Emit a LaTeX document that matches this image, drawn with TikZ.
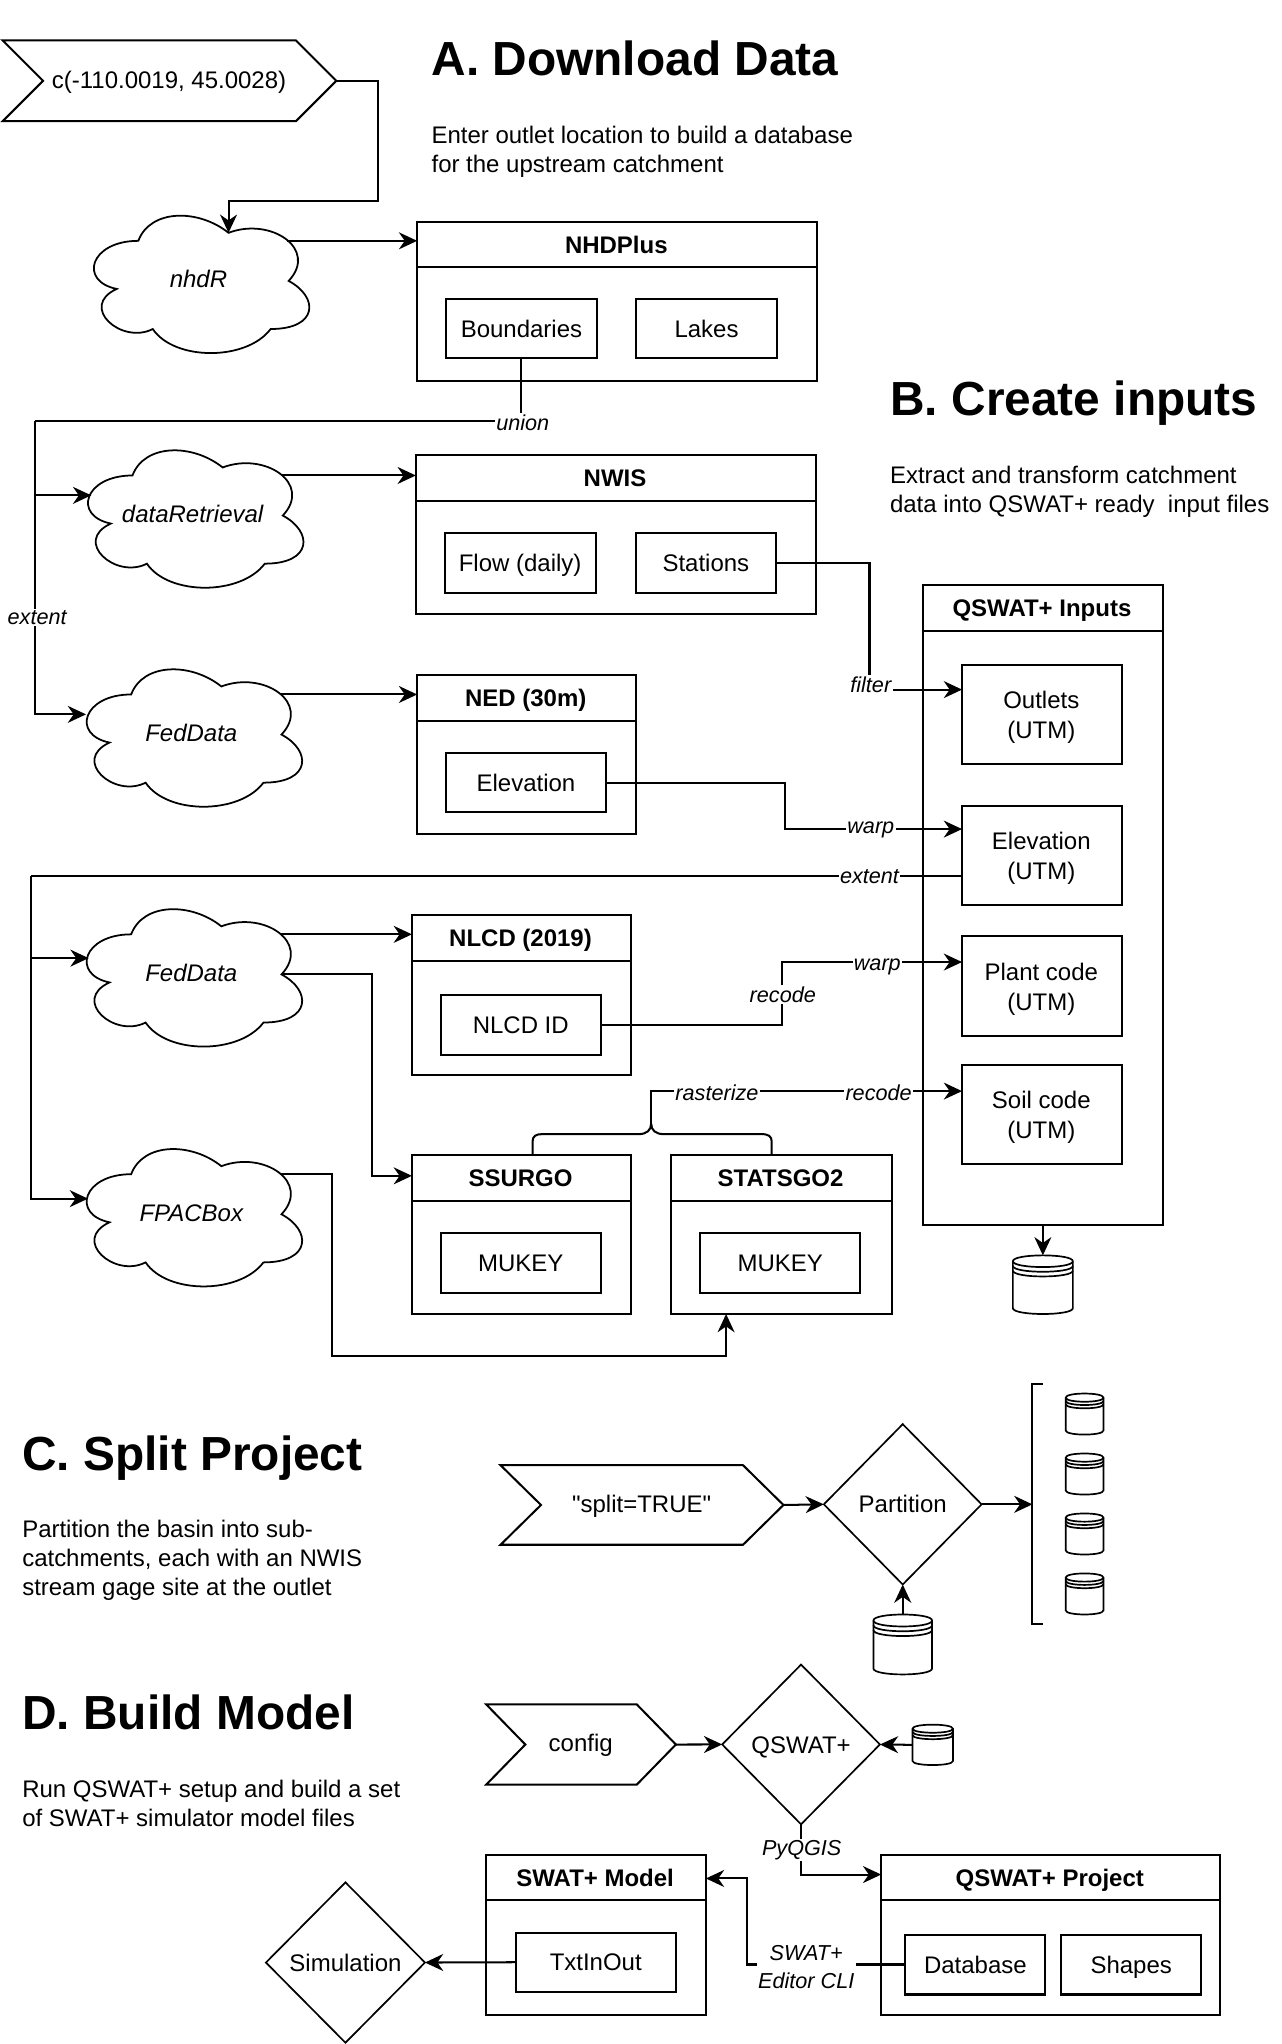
\documentclass[tikz,border=0pt]{standalone}
\usepackage{fontspec}
\setmainfont{Liberation Sans}
\newfontfamily\plainf{Liberation Sans}
\usetikzlibrary{arrows.meta,shapes.geometric}
\definecolor{ink}{RGB}{0,0,0}
\tikzset{
  every path/.style={line width=1.55pt,line join=miter},
  oneline/.style={text height=13.2pt,text depth=0pt},
  txt/.style={font=\fontsize{18.4}{23}\selectfont,align=center,inner sep=0pt,oneline},
  two/.style={font=\fontsize{18.4}{23}\selectfont,align=center,inner sep=0pt,xshift=-0.7pt},
  bxs/.style={draw=ink,fill=white,rectangle,inner sep=0pt,outer sep=0pt,font=\fontsize{18.4}{23}\selectfont,oneline},
  ttl/.style={font=\fontsize{18.4}{23}\selectfont\bfseries,inner sep=0pt,oneline,xshift=-0.7pt},
  cld/.style={font=\fontsize{18.4}{23}\selectfont\itshape,inner sep=0pt,oneline},
  arr/.style={-{Stealth[length=14pt,width=13pt,inset=4.5pt]}},
  lbl/.style={font=\fontsize{16.6}{22}\selectfont\itshape,fill=white,inner sep=1pt,align=center},
  head/.style={font=\fontsize{36.7}{40}\selectfont\bfseries,anchor=base west,inner sep=0pt},
  desc/.style={font=\fontsize{18.4}{22}\selectfont,anchor=west,align=left,inner sep=0pt},
  dia/.style={diamond,aspect=1,draw=ink,fill=white,line width=1.3pt,inner sep=0pt,outer sep=0pt,font=\fontsize{18.4}{23}\selectfont,oneline},
}
% plain box: name x1 y1 x2 y2 text
\newcommand{\bx}[6]{\node[bxs,minimum width={(#4-#2)*1pt},minimum height={(#5-#3)*1pt}] (#1) at ({(#2+#4)/2},{(#3+#5)/2}) {#6};}
% box with two lines of text: name x1 y1 x2 y2 line1 line2
\newcommand{\bxb}[7]{\node[bxs,minimum width={(#4-#2)*1pt},minimum height={(#5-#3)*1pt}] (#1) at ({(#2+#4)/2},{(#3+#5)/2}) {};
  \node[two] (#1-t) at ({(#2+#4)/2},{(#3+#5)/2+2.5}) {\strut #6\\\strut #7};}
% titled box: name x1 y1 x2 y2 yheader title
\newcommand{\tbx}[7]{\node[bxs,minimum width={(#4-#2)*1pt},minimum height={(#5-#3)*1pt}] (#1) at ({(#2+#4)/2},{(#3+#5)/2}) {};
  \draw (#2,#6) -- (#4,#6);
  \node[ttl] (#1-t) at ({(#2+#4)/2},{(#3+#6)/2}) {#7};}
% cloud: name x0 y0 text
\newcommand{\cloudn}[4]{\begin{scope}[shift={(#2,#3)},x=184.5pt,y=-123pt]
  \draw[fill=white,line width=1.35pt] (.25,.25) .. controls (.05,.25) and (0,.5) .. (.16,.55)
   .. controls (0,.66) and (.18,.9) .. (.31,.8)
   .. controls (.4,1) and (.7,1) .. (.8,.8)
   .. controls (1,.8) and (1,.6) .. (.875,.5)
   .. controls (1,.3) and (.8,.1) .. (.625,.2)
   .. controls (.5,.05) and (.3,.05) .. (.25,.25) -- cycle;
  \node[cld] (#1) at (.5,.49) {#4};
  \coordinate (#1-top) at (.625,.2);
  \coordinate (#1-ne) at (.867,.25);
  \coordinate (#1-e) at (.88,.5);
  \end{scope}}
% hexagon: name x1 y1 x2 y2 notch text
\newcommand{\hexn}[7]{\draw[fill=white] (#2,#3) -- ({#4-#6},#3) -- (#4,{(#3+#5)/2}) -- ({#4-#6},#5) -- (#2,#5) -- ({#2+#6},{(#3+#5)/2}) -- cycle;
  \coordinate (#1-e) at (#4,{(#3+#5)/2});
  \node[txt] (#1) at ({(#2+#4)/2-0.3},{(#3+#5)/2-1}) {#7};}
% datastore: name x1 y1 x2 y2
\newcommand{\store}[5]{\pgfmathsetmacro\stw{#4-#2}\pgfmathsetmacro\sth{#3-#5}%
  \begin{scope}[shift={(#2,#3)},x=\stw pt,y=\sth pt]
  \draw[fill=white,line width=1.3pt] (0,.1) -- (0,.9) .. controls (0,1.033) and (1,1.033) .. (1,.9) -- (1,.1)
     .. controls (1,-.033) and (0,-.033) .. (0,.1) -- cycle;
  \draw[line width=1.3pt] (0,.1) .. controls (0,.233) and (1,.233) .. (1,.1);
  \draw[line width=1.3pt] (0,.18) .. controls (0,.313) and (1,.313) .. (1,.18);
  \draw[line width=1.3pt] (0,.26) .. controls (0,.393) and (1,.393) .. (1,.26);
  \coordinate (#1-n) at (.5,0);
  \coordinate (#1-w) at (0,.5);
  \end{scope}}
\begin{document}
\begin{tikzpicture}[x=1pt,y=-1pt]
\fill[white] (0,0) rectangle (983.4,1568);
\path[use as bounding box] (0,0) rectangle (983.4,1568);

% headings
\node[head] (hA) at (330.3,58) {A. Download Data};
\node[desc] (dA) at (330.3,116.2) {Enter outlet location to build a database\\for the upstream catchment};
\node[head] (hB) at (682.3,319) {B. Create inputs};
\node[desc] (dB) at (682,377.5) {Extract and transform catchment\\data into QSWAT+ ready\ \ input files};
\node[head] (hC) at (16.3,1128) {C. Split Project};
\node[desc] (dC) at (16.3,1196.8) {Partition the basin into sub-\\catchments, each with an NWIS\\stream gage site at the outlet};
\node[head] (hD) at (16.3,1327) {D. Build Model};
\node[desc] (dD) at (16.3,1383.6) {Run QSWAT+ setup and build a set\\of SWAT+ simulator model files};

% input hexagon and clouds
\hexn{hexa}{2}{31}{258}{93}{31}{c(-110.0019, 45.0028)}
\cloudn{nhdr}{60}{154}{nhdR}
\cloudn{dret}{55.5}{334}{dataRetrieval}
\cloudn{fed}{54.5}{502}{FedData}
\cloudn{fedb}{54.5}{686}{FedData}
\cloudn{fpac}{54.5}{870}{FPACBox}
\coordinate (dret-w) at (70,380);
\coordinate (fed-w) at (66,548);
\coordinate (fedb-w) at (68,735);
\coordinate (fpac-w) at (67.5,919.5);

% data boxes
\tbx{nhd}{320}{170}{627}{292}{205}{NHDPlus}
\bx{bound}{342}{229}{458}{275}{Boundaries}
\bx{lakes}{488}{229}{596}{275}{Lakes}
\tbx{nwis}{319}{349}{626}{471}{384}{NWIS}
\bx{flow}{341}{409}{457}{455}{Flow (daily)}
\bx{stat}{488}{409}{595}{455}{Stations}
\tbx{ned}{320}{518}{488}{640}{553}{NED (30m)}
\bx{elev}{342}{578}{465}{623}{Elevation}
\tbx{nlcd}{316}{702}{484}{825}{737}{NLCD (2019)}
\bx{nlid}{338}{763}{461}{809}{NLCD ID}
\tbx{ssu}{316}{886}{484}{1008}{921}{SSURGO}
\bx{muka}{338}{946}{461}{992}{MUKEY}
\tbx{sta}{515}{886}{684}{1008}{921}{STATSGO2}
\bx{mukb}{537}{946}{660}{992}{MUKEY}
\tbx{inp}{708}{449}{892}{940}{484}{QSWAT+ Inputs}
\bxb{outl}{738}{510}{861}{586}{Outlets}{(UTM)}
\bxb{elevu}{738}{618}{861}{694}{Elevation}{(UTM)}
\bxb{plant}{738}{718}{861}{795}{Plant code}{(UTM)}
\bxb{soil}{738}{817}{861}{893}{Soil code}{(UTM)}
\store{dbi}{777}{963}{823}{1008}

% named bends
\coordinate (k1) at (290,154);
\coordinate (ktr) at (27,323);
\coordinate (ktrb) at (24,672);
\coordinate (kst) at (667,529);
\coordinate (kel) at (602,636);
\coordinate (knl) at (600,738);
\coordinate (kf) at (285,748);
\coordinate (kp) at (255,1040);
\coordinate (kps) at (557,1040);
\coordinate (kelx) at (738,672);
\coordinate (bra) at (408.5,886);
\coordinate (brb) at (592,886);

% connectors section A/B
\draw[arr] (hexa-e) -| (k1) -| (nhdr-top);
\draw[arr] (nhdr-ne) -- (nhd.west |- nhdr-ne);
\draw[arr] (dret-ne) -- (nwis.west |- dret-ne);
\draw[arr] (fed-ne) -- (ned.west |- fed-ne);
\draw[arr] (fedb-ne) -- (nlcd.west |- fedb-ne);
\draw (bound.south) |- (ktr);
\draw[arr] (ktr) |- (fed-w);
\draw[arr] (ktr |- dret-w) -- (dret-w);
\draw[arr] (stat.east) -| (kst) -- (outl.west |- kst);
\draw[arr] (elev.east) -| (kel) -- (elevu.west |- kel);
\draw (kelx) -- (ktrb);
\draw[arr] (ktrb) |- (fpac-w);
\draw[arr] (ktrb |- fedb-w) -- (fedb-w);
\draw[arr] (nlid.east) -| (knl) -- (plant.west |- knl);
\draw[arr] (fedb-e) -| (kf) |- (ssu.west |- 0,902);
\draw[arr] (fpac-ne) -| (kp) -- (kps) -- (kps |- sta.south);
\draw[arr] (inp.south) -- (dbi-n);
% brace
\draw (bra) -- (408.5,876) .. controls (408.5,871.5) and (411,870) .. (416,870) -- (490,870)
  .. controls (496,870) and (499.5,867) .. (499.5,862);
\draw (brb) -- (592,876) .. controls (592,871.5) and (589.5,870) .. (584,870) -- (509,870)
  .. controls (503,870) and (499.5,867) .. (499.5,862);
\draw[arr] (499.5,862) -- (499.5,837) -- (soil.west |- 0,837);

% section C
\hexn{hexc}{384}{1124}{601}{1185}{31}{{\plainf "split=TRUE"}}
\node[dia,minimum width=121pt,minimum height=123pt] (part) at (692.5,1154) {Partition};
\coordinate (brk) at (792,1154);
\draw (800,1062) -- (792,1062) -- (792,1246) -- (800,1246);
\store{dbc}{670}{1238.5}{715}{1284.5}
\store{s1}{817.5}{1069}{846.5}{1100.5}
\store{s2}{817.5}{1115}{846.5}{1146.5}
\store{s3}{817.5}{1161}{846.5}{1192.5}
\store{s4}{817.5}{1207}{846.5}{1238.5}
\draw[arr] (hexc-e) -- (part.west);
\draw[arr] (part.east) -- (brk);
\draw[arr] (dbc-n) -- (part.south);

% section D
\hexn{hexd}{373}{1307.5}{518.5}{1369}{30}{config}
\node[dia,minimum width=121pt,minimum height=122.5pt] (qsw) at (614.5,1338.2) {QSWAT+};
\store{dbd}{700}{1323}{731}{1354}
\tbx{proj}{676}{1423}{936}{1545.5}{1457.5}{QSWAT+ Project}
\bx{dbase}{694.5}{1484}{802}{1530}{Database}
\bx{shap}{814}{1484}{921.5}{1530}{Shapes}
\tbx{smod}{373}{1423}{541.5}{1545.5}{1457.5}{SWAT+ Model}
\bx{txt}{395.5}{1482.5}{518.5}{1528}{TxtInOut}
\node[dia,minimum width=122pt,minimum height=123pt] (sim) at (265,1505.5) {Simulation};
\coordinate (kq) at (614.5,1438);
\coordinate (ked) at (573,1507);
\coordinate (keu) at (573,1441);
\draw[arr] (hexd-e) -- (qsw.west);
\draw[arr] (dbd-w) -- (qsw.east);
\draw[arr] (qsw.south) -- (kq) -- (proj.west |- kq);
\draw[arr] (dbase.west |- ked) -- (ked) -- (keu) -- (smod.east |- keu);
\draw[arr] (txt.west) -- (sim.east);

% connector labels
\node[lbl] (lunion) at (401,324) {union};
\node[lbl] (lext) at (28.5,474) {extent};
\node[lbl] (lfilt) at (668,525) {filter};
\node[lbl] (lwarp) at (668,637) {warp};
\node[lbl] (lextb) at (667,672.5) {extent};
\node[lbl] (lrec) at (600.5,763) {recode};
\node[lbl] (lwarpb) at (673,742) {warp};
\node[lbl] (lras) at (550,838) {rasterize};
\node[lbl] (lrecb) at (674,838) {recode};
\node[lbl] (lpy) at (615,1419) {PyQGIS};
\node[lbl] (lswat) at (618.5,1509) {SWAT+\\Editor CLI};
\end{tikzpicture}
\end{document}
